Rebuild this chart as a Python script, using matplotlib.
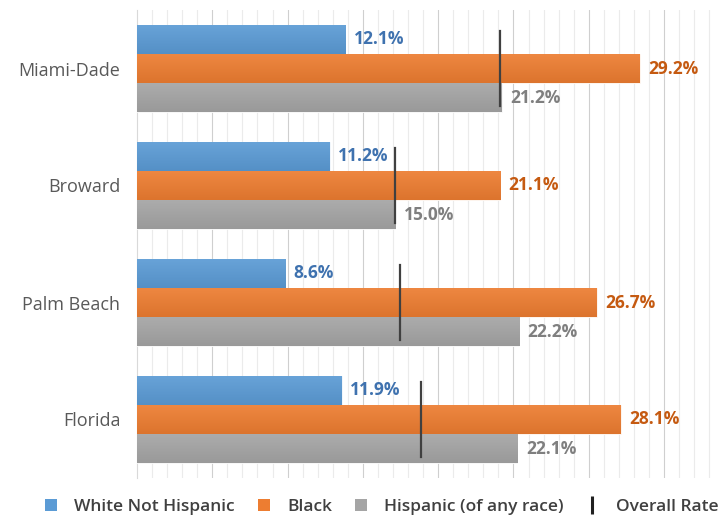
import matplotlib
matplotlib.use("Agg")
import matplotlib.pyplot as plt
import numpy as np
from matplotlib.colors import to_rgb
from matplotlib.lines import Line2D
from matplotlib.patches import Patch

# data
regions = ["Miami-Dade", "Broward", "Palm Beach", "Florida"]
white = [12.1, 11.2, 8.6, 11.9]
black = [29.2, 21.1, 26.7, 28.1]
hispanic = [21.2, 15.0, 22.2, 22.1]
overall = [21.1, 15.0, 15.3, 16.5]

series_names = ["White Not Hispanic", "Black", "Hispanic (of any race)"]
bar_colors = ["#5B9BD5", "#ED7D31", "#A5A5A5"]
text_colors = ["#3F72AF", "#C55A11", "#7F7F7F"]

FONT = ["Open Sans", "DejaVu Sans"]


def gradient_fill(ax, bar, color):
    # light-to-dark vertical shading like the Office bar style
    base = np.array(to_rgb(color))
    top = base + (1 - base) * 0.08
    bot = base * 0.93
    t = np.linspace(0, 1, 32)[:, None]
    img = (top * (1 - t) + bot * t)[:, None, :]
    x0, y0 = bar.get_x(), bar.get_y()
    w, hh = bar.get_width(), bar.get_height()
    im = ax.imshow(img, extent=[x0, x0 + w, y0 + hh, y0], aspect="auto",
                   origin="upper", zorder=3, interpolation="bilinear")
    im.set_clip_path(bar)


fig = plt.figure(figsize=(7.27, 5.19), dpi=100)
ax = fig.add_axes([137 / 727, 1 - 478 / 519, 580 / 727, 468 / 519])

y = np.arange(len(regions))
h = 0.25
offsets = [-h, 0, h]

for vals, off, col, tcol in zip([white, black, hispanic], offsets, bar_colors, text_colors):
    bars = ax.barh(y + off, vals, height=h, color=col, edgecolor="white",
                   linewidth=0.6, zorder=3)
    for b in bars:
        gradient_fill(ax, b, col)
    for yi, v in zip(y, vals):
        ax.text(v + 0.5, yi + off, f"{v:.1f}%", va="center", ha="left",
                fontsize=12.5, fontweight="bold", color=tcol, family=FONT, zorder=4)

for yi, v in zip(y, overall):
    ax.plot([v, v], [yi - 0.32, yi + 0.32], color="#404040", linewidth=1.6, zorder=5)

ax.set_xlim(0, 33.7)
ax.set_ylim(len(regions) - 0.5, -0.5)

# light gridlines, slightly darker every fifth
minor_step = 0.875
for i, gx in enumerate(np.arange(minor_step, 33.7, minor_step)):
    c = "#CFCFCF" if (i + 1) % 5 == 0 else "#EBEBEB"
    ax.axvline(gx, color=c, linewidth=0.8, zorder=1)

ax.set_xticks([])
ax.set_yticks(y)
ax.set_yticklabels(regions, fontsize=13, color="#595959", family=FONT)
ax.tick_params(axis="y", length=0, pad=12)
for s in ["top", "right", "bottom"]:
    ax.spines[s].set_visible(False)
ax.spines["left"].set_color("#D9D9D9")

handles = [Patch(facecolor=c, edgecolor="none") for c in bar_colors]
handles.append(Line2D([0], [0], color="#202020", linestyle="none",
                      marker="|", markersize=13, markeredgewidth=2.2))
labels = series_names + ["Overall Rate"]
leg = fig.legend(handles, labels, loc="center", bbox_to_anchor=(0.525, 1 - 507 / 519),
                 ncol=4, frameon=False, handlelength=0.7, handleheight=0.7,
                 columnspacing=1.3, handletextpad=1.0,
                 prop={"family": FONT, "size": 12.5, "weight": "semibold"})
for t in leg.get_texts():
    t.set_color("#404040")

fig.savefig("out.png", dpi=100)
